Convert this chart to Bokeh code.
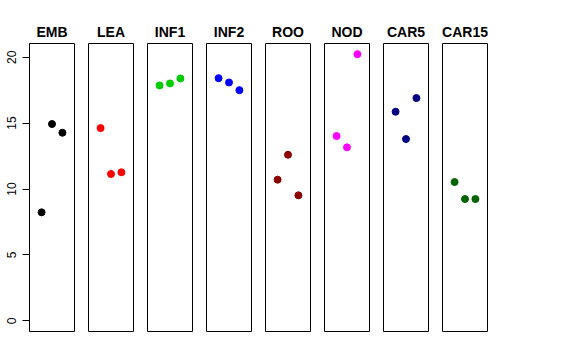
from bokeh.plotting import figure
from bokeh.layouts import row
from bokeh.models import Range1d, FixedTicker, ColumnDataSource
from bokeh.embed import file_html
from bokeh.resources import INLINE

groups = ["EMB", "LEA", "INF1", "INF2", "ROO", "NOD", "CAR5", "CAR15"]
xpos = [1, 2, 3]
emb = [8.23, 14.93, 14.27]
lea = [14.62, 11.14, 11.27]
inf1 = [17.86, 18.01, 18.39]
inf2 = [18.41, 18.08, 17.50]
roo = [10.71, 12.60, 9.52]
nod = [14.02, 13.16, 20.23]
car5 = [15.86, 13.79, 16.90]
car15 = [10.53, 9.24, 9.24]
series = [emb, lea, inf1, inf2, roo, nod, car5, car15]
colors = ["black", "red", "#00CD00", "blue", "#8B0000", "magenta", "#000080", "#006400"]
y_ticks = [0, 5, 10, 15, 20]

ymax = max(max(s) for s in series)
ypad = 0.04 * ymax
xpad = 0.04 * 4

figs = []
for i, (g, s, c) in enumerate(zip(groups, series, colors)):
    first = i == 0
    p = figure(
        frame_width=45, frame_height=288,
        x_range=Range1d(0 - xpad, 4 + xpad),
        y_range=Range1d(0 - ypad, ymax + ypad),
        output_backend="svg", toolbar_location=None,
        x_axis_location=None,
        y_axis_location="left" if first else None,
        min_border_left=29 if first else 7,
        min_border_right=7, min_border_top=43, min_border_bottom=4,
        title=g,
    )
    p.title.align = "center"
    p.title.text_font = "Liberation Sans"
    p.title.text_font_style = "bold"
    p.title.text_font_size = "14px"
    p.title.text_color = "black"
    p.title.standoff = 8
    p.xgrid.visible = False
    p.ygrid.visible = False
    p.outline_line_color = "black"
    p.outline_line_width = 1
    p.outline_line_alpha = 1
    p.background_fill_color = "white"
    p.border_fill_color = "white"
    if first:
        ax = p.yaxis[0]
        ax.ticker = FixedTicker(ticks=y_ticks)
        ax.minor_tick_line_color = None
        ax.major_tick_out = 7
        ax.major_tick_in = 0
        ax.major_tick_line_color = "black"
        ax.axis_line_color = "black"
        ax.major_label_orientation = "vertical"
        ax.major_label_standoff = 6
        ax.major_label_text_font = "Liberation Sans"
        ax.major_label_text_font_size = "12px"
        ax.major_label_text_color = "black"
    src = ColumnDataSource(dict(x=xpos, y=s))
    p.scatter("x", "y", source=src, size=7, fill_color=c, line_color=c)
    figs.append(p)

layout = row(*figs, spacing=0)
open("out.html", "w").write(file_html(layout, INLINE))
